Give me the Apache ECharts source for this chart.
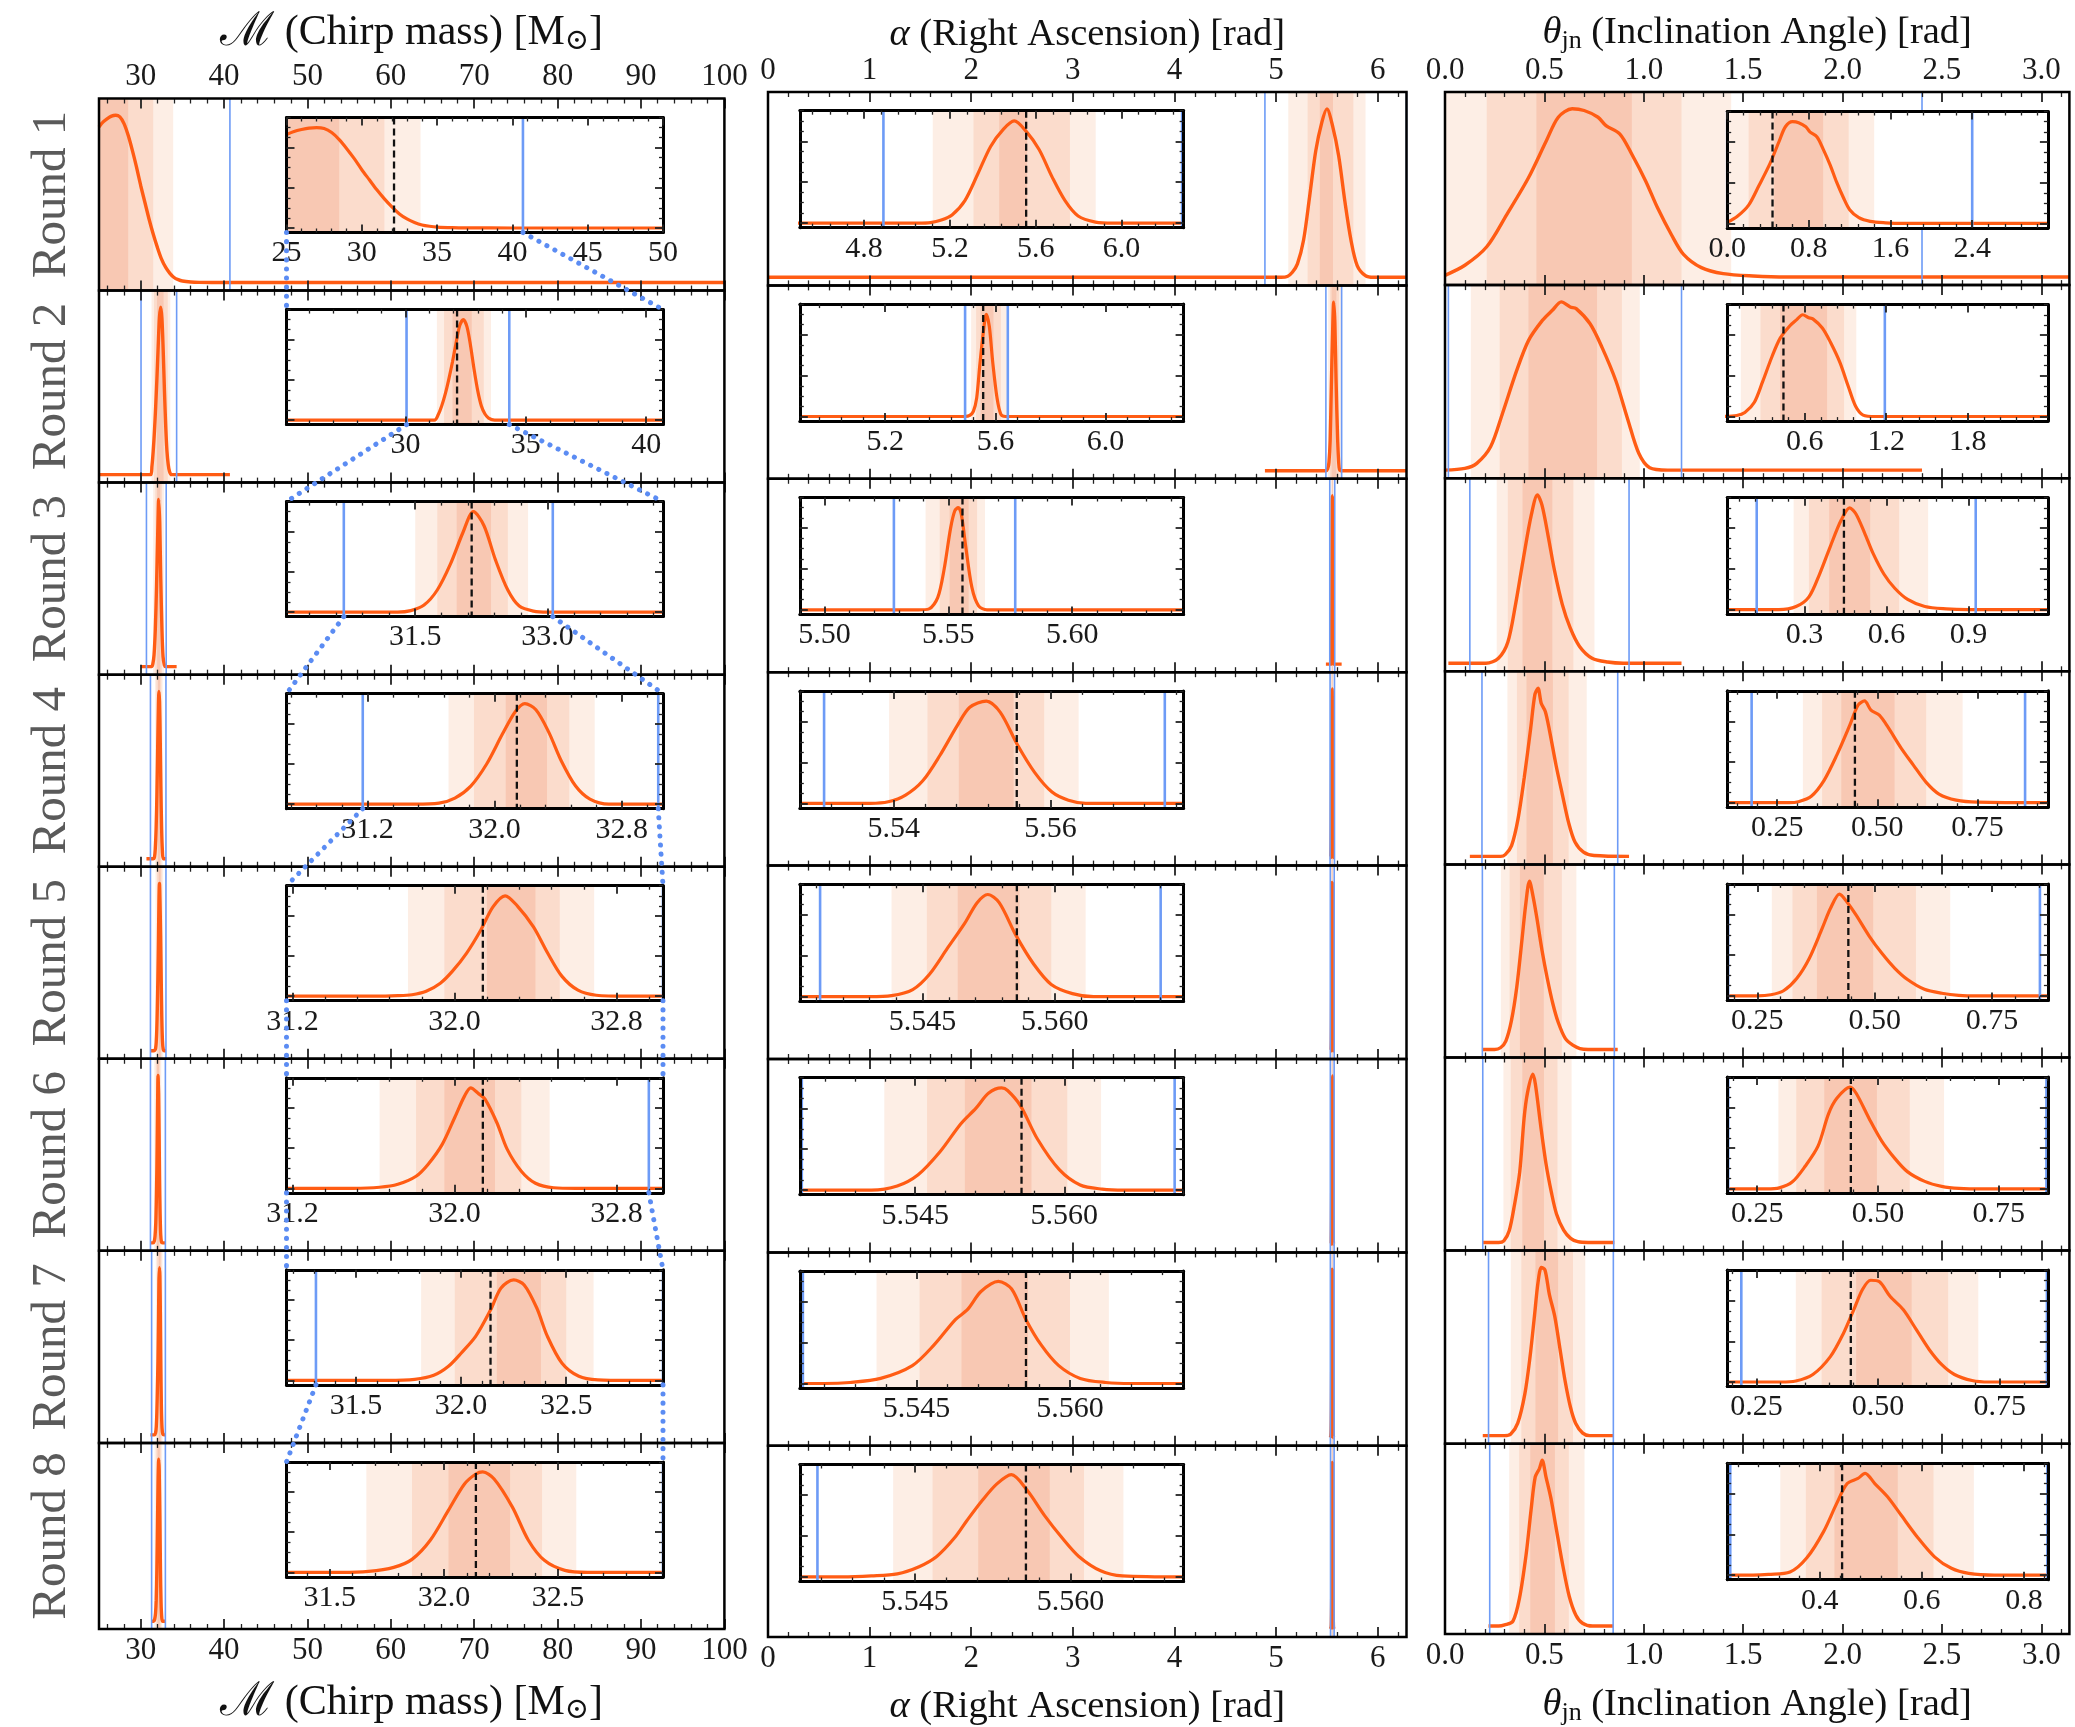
<!DOCTYPE html>
<html>
<head>
<meta charset="utf-8">
<script src="https://cdn.jsdelivr.net/npm/echarts@6/dist/echarts.min.js"></script>
<style>
html,body{margin:0;padding:0;background:#ffffff;}
#chart{width:2075px;height:1727px;}
</style>
</head>
<body>
<div id="chart"></div>
<script>
// ======================= DATA =======================
const roundNames = ['Round 1','Round 2','Round 3','Round 4','Round 5','Round 6','Round 7','Round 8'];

// ---- Column 1 : chirp mass ----
const chirpRange = [25, 100];
const chirpTicks = ['30','40','50','60','70','80','90','100'];
const chirpMinorStep = 2;
const chirpTruth = 32.14;
const chirpInsetRange = [[25,50],[25.05,40.7],[30.04,34.31],[30.69,33.06],[31.17,33.03],[31.17,33.03],[31.17,32.96],[31.31,32.96]];
const chirpInsetTicks = [['25','30','35','40','45','50'],['30','35','40'],['31.5','33.0'],['31.2','32.0','32.8'],['31.2','32.0','32.8'],['31.2','32.0','32.8'],['31.5','32.0','32.5'],['31.5','32.0','32.5']];
const chirpInsetMinor = [1,1,0.3,0.16,0.16,0.16,0.1,0.1];
const chirpPrior = [[25,40.7],[30.04,34.31],[30.69,33.06],[31.17,33.03],[31.17,33.03],[31.17,32.96],[31.31,32.96],[31.31,32.96]];
const chirpBands = [
  [[25,33.9],[25,31.5],[25,28.5]],
  [[31.3,33.55],[31.6,33.25],[31.95,32.75]],
  [[31.5,32.78],[31.75,32.55],[31.97,32.36]],
  [[31.71,32.63],[31.87,32.47],[32.07,32.33]],
  [[31.77,32.69],[31.95,32.52],[32.16,32.4]],
  [[31.63,32.47],[31.81,32.33],[31.95,32.2]],
  [[31.81,32.63],[31.97,32.5],[32.17,32.38]],
  [[31.66,32.58],[31.86,32.43],[32.02,32.29]]
];
const chirpCurveX = [
  [25,25.5,26,26.5,27,27.5,28,28.5,29,29.5,30,30.5,31,31.5,32,32.5,33,33.5,34,34.5,35,36,37,40,100],
  [25,31.2,31.35,31.5,31.65,31.8,31.95,32.1,32.25,32.4,32.55,32.7,32.85,33.0,33.15,33.3,33.45,33.7,40.7],
  [30.04,31.3,31.45,31.6,31.75,31.9,32.04,32.16,32.28,32.41,32.55,32.68,32.84,33.0,34.31],
  [30.69,31.5,31.65,31.75,31.85,31.95,32.05,32.13,32.19,32.26,32.34,32.42,32.51,32.6,32.72,33.06],
  [31.17,31.6,31.72,31.79,31.86,31.93,31.99,32.06,32.13,32.19,32.25,32.31,32.39,32.46,32.53,32.61,32.7,32.85,33.03],
  [31.17,31.5,31.63,31.72,31.81,31.87,31.94,32.0,32.05,32.08,32.12,32.15,32.21,32.26,32.33,32.4,32.49,32.6,33.03],
  [31.17,31.65,31.78,31.87,31.94,32.0,32.07,32.14,32.19,32.25,32.3,32.36,32.41,32.48,32.56,32.65,32.8,32.96],
  [31.31,31.55,31.67,31.78,31.86,31.94,32.02,32.09,32.14,32.17,32.22,32.3,32.37,32.44,32.53,32.63,32.96]
];
const chirpCurveY = [
  [0.93,0.96,0.98,0.995,1.0,0.99,0.95,0.88,0.79,0.69,0.58,0.48,0.38,0.29,0.21,0.14,0.09,0.055,0.03,0.017,0.009,0.003,0.001,0,0],
  [0,0,0.05,0.14,0.26,0.41,0.58,0.77,0.94,1.0,0.93,0.74,0.5,0.29,0.14,0.06,0.02,0,0],
  [0,0,0.015,0.07,0.22,0.48,0.79,1.0,0.86,0.52,0.22,0.06,0.01,0,0],
  [0,0,0.01,0.06,0.18,0.4,0.7,0.92,1.0,0.94,0.72,0.43,0.18,0.05,0,0],
  [0,0,0.005,0.015,0.05,0.13,0.25,0.43,0.66,0.89,1.0,0.9,0.69,0.43,0.2,0.06,0.01,0,0],
  [0,0,0.01,0.04,0.12,0.24,0.44,0.7,0.92,1.0,0.94,0.89,0.65,0.39,0.17,0.05,0.005,0,0],
  [0,0,0.01,0.05,0.14,0.27,0.44,0.7,0.92,1.0,0.95,0.72,0.44,0.17,0.04,0.005,0,0],
  [0,0,0.01,0.05,0.13,0.32,0.62,0.88,0.98,1.0,0.93,0.65,0.32,0.12,0.02,0,0]
];

// ---- Column 2 : right ascension ----
const raRange = [0, 6.2832];
const raTicks = ['0','1','2','3','4','5','6'];
const raMinorStep = 0.2;
const raTruth = 5.5557;
const raInsetRange = [[4.5,6.29],[4.89,6.2832],[5.49,5.645],[5.528,5.577],[5.5311,5.5746],[5.5334,5.572],[5.5336,5.5711],[5.5339,5.5709]];
const raInsetTicks = [['4.8','5.2','5.6','6.0'],['5.2','5.6','6.0'],['5.50','5.55','5.60'],['5.54','5.56'],['5.545','5.560'],['5.545','5.560'],['5.545','5.560'],['5.545','5.560']];
const raInsetMinor = [0.08,0.08,0.01,0.004,0.003,0.003,0.003,0.003];
const raPrior = [[4.89,6.2832],[5.49,5.645],[5.528,5.577],[5.5311,5.5746],[5.5334,5.572],[5.5336,5.5711],[5.5339,5.5711],[5.5356,5.5709]];
const raBands = [
  [[5.12,5.88],[5.31,5.76],[5.43,5.56]],
  [[5.512,5.64],[5.53,5.62],[5.546,5.593]],
  [[5.5408,5.5648],[5.5465,5.5616],[5.5505,5.5582]],
  [[5.5394,5.5636],[5.5443,5.5592],[5.5483,5.5553]],
  [[5.5415,5.5635],[5.5455,5.5596],[5.549,5.556]],
  [[5.5419,5.5637],[5.5462,5.5603],[5.55,5.5567]],
  [[5.5411,5.5638],[5.5453,5.56],[5.5494,5.5559]],
  [[5.5429,5.5651],[5.5467,5.5613],[5.5511,5.558]]
];
const raCurveX = [
  [0,5.05,5.11,5.16,5.21,5.27,5.33,5.39,5.45,5.5,5.555,5.616,5.677,5.737,5.798,5.879,5.96,6.2832],
  [4.89,5.49,5.507,5.52,5.532,5.543,5.556,5.567,5.578,5.59,5.606,5.62,5.636,6.2832],
  [5.49,5.538,5.5422,5.5457,5.5483,5.5509,5.5526,5.554,5.5552,5.5569,5.5595,5.5622,5.5656,5.645],
  [5.528,5.537,5.5393,5.5415,5.5437,5.5459,5.5481,5.5497,5.5518,5.5536,5.5558,5.558,5.5602,5.5623,5.5645,5.577],
  [5.5311,5.539,5.5415,5.5439,5.5458,5.5478,5.5498,5.5512,5.5524,5.5537,5.5556,5.5576,5.5596,5.562,5.5644,5.5746],
  [5.5334,5.5406,5.5432,5.5453,5.5475,5.5496,5.5511,5.5524,5.5537,5.5543,5.5556,5.5573,5.5595,5.5616,5.5638,5.566,5.572],
  [5.5336,5.536,5.5385,5.5415,5.5446,5.5467,5.5488,5.55,5.5513,5.553,5.5543,5.5557,5.5572,5.5589,5.561,5.5635,5.566,5.5711],
  [5.5339,5.538,5.5408,5.5433,5.5454,5.5471,5.5488,5.55,5.5515,5.5529,5.5543,5.5558,5.5575,5.5592,5.5608,5.5629,5.565,5.5709]
];
const raCurveY = [
  [0,0,0.005,0.03,0.08,0.22,0.48,0.75,0.92,1.0,0.9,0.72,0.45,0.22,0.07,0.01,0,0],
  [0,0,0.01,0.05,0.18,0.49,0.82,1.0,0.88,0.54,0.18,0.02,0,0],
  [0,0,0.01,0.12,0.4,0.8,0.97,1.0,0.94,0.64,0.22,0.04,0,0],
  [0,0,0.015,0.08,0.22,0.47,0.76,0.94,1.0,0.89,0.57,0.3,0.11,0.03,0,0],
  [0,0,0.01,0.07,0.22,0.47,0.72,0.92,1.0,0.92,0.6,0.32,0.12,0.03,0,0],
  [0,0,0.04,0.15,0.375,0.65,0.8,0.95,1.0,0.975,0.825,0.5,0.2,0.05,0.01,0,0],
  [0,0,0.01,0.05,0.175,0.375,0.625,0.725,0.9,1.0,0.925,0.625,0.375,0.175,0.05,0.01,0,0],
  [0,0,0.01,0.03,0.1,0.2,0.38,0.55,0.75,0.91,1.0,0.85,0.6,0.38,0.2,0.06,0.01,0]
];

// ---- Column 3 : inclination angle ----
const inclRange = [0, 3.1416];
const inclTicks = ['0.0','0.5','1.0','1.5','2.0','2.5','3.0'];
const inclMinorStep = 0.1;
const inclTruth = 0.444;
const inclInsetRange = [[0,3.1416],[0.03,2.39],[0.017,1.19],[0.125,0.926],[0.186,0.869],[0.188,0.852],[0.19,0.849],[0.219,0.847]];
const inclInsetTicks = [['0.0','0.8','1.6','2.4'],['0.6','1.2','1.8'],['0.3','0.6','0.9'],['0.25','0.50','0.75'],['0.25','0.50','0.75'],['0.25','0.50','0.75'],['0.25','0.50','0.75'],['0.4','0.6','0.8']];
const inclInsetMinor = [0.16,0.12,0.06,0.05,0.05,0.05,0.05,0.04];
const inclPrior = [[0,2.4],[0.017,1.19],[0.125,0.926],[0.186,0.869],[0.188,0.852],[0.19,0.849],[0.219,0.847],[0.225,0.846]];
const inclBands = [
  [[0,1.44],[0.21,1.19],[0.46,0.94]],
  [[0.13,0.98],[0.275,0.89],[0.42,0.765]],
  [[0.26,0.752],[0.316,0.646],[0.39,0.54]],
  [[0.314,0.713],[0.362,0.622],[0.41,0.543]],
  [[0.281,0.661],[0.325,0.588],[0.377,0.497]],
  [[0.294,0.637],[0.331,0.566],[0.389,0.498]],
  [[0.331,0.706],[0.384,0.644],[0.455,0.569]],
  [[0.323,0.702],[0.373,0.623],[0.429,0.553]]
];
const inclCurveX = [
  [0,0.1,0.21,0.31,0.42,0.51,0.57,0.64,0.7,0.77,0.81,0.88,0.94,1.01,1.07,1.14,1.2,1.29,1.4,1.55,1.72,3.1416],
  [0,0.1,0.16,0.23,0.29,0.36,0.42,0.49,0.54,0.585,0.63,0.66,0.73,0.79,0.86,0.92,0.975,1.03,1.12,2.4],
  [0.017,0.206,0.269,0.316,0.355,0.394,0.434,0.465,0.488,0.52,0.551,0.59,0.63,0.677,0.74,0.818,0.897,1.19],
  [0.125,0.28,0.303,0.335,0.367,0.399,0.431,0.452,0.468,0.484,0.505,0.527,0.559,0.59,0.622,0.654,0.697,0.75,0.926],
  [0.186,0.25,0.279,0.306,0.334,0.361,0.388,0.406,0.425,0.443,0.461,0.488,0.515,0.543,0.57,0.606,0.643,0.679,0.72,0.869],
  [0.188,0.27,0.296,0.323,0.349,0.376,0.398,0.415,0.442,0.455,0.482,0.508,0.535,0.561,0.597,0.632,0.668,0.72,0.852],
  [0.19,0.3,0.331,0.366,0.402,0.428,0.45,0.468,0.485,0.503,0.525,0.552,0.578,0.605,0.631,0.657,0.693,0.728,0.849],
  [0.219,0.27,0.3,0.342,0.375,0.408,0.433,0.454,0.475,0.489,0.508,0.533,0.558,0.592,0.625,0.658,0.692,0.742,0.847]
];
const inclCurveY = [
  [0.01,0.07,0.18,0.37,0.59,0.81,0.95,1.0,0.99,0.95,0.9,0.85,0.73,0.57,0.41,0.25,0.135,0.056,0.02,0.006,0,0],
  [0,0.01,0.04,0.14,0.34,0.59,0.77,0.89,0.95,1.0,0.97,0.96,0.87,0.73,0.53,0.3,0.1,0.014,0,0],
  [0,0,0.03,0.125,0.35,0.62,0.88,1.0,0.94,0.75,0.55,0.35,0.21,0.1,0.03,0.007,0,0],
  [0,0,0.01,0.064,0.22,0.47,0.76,0.96,1.0,0.91,0.86,0.74,0.54,0.37,0.2,0.085,0.025,0.005,0],
  [0,0,0.01,0.05,0.17,0.37,0.66,0.86,1.0,0.91,0.79,0.59,0.42,0.27,0.16,0.064,0.025,0.005,0,0],
  [0,0,0.01,0.07,0.22,0.42,0.74,0.89,1.0,0.94,0.69,0.47,0.3,0.17,0.074,0.025,0.005,0,0],
  [0,0,0.01,0.074,0.25,0.47,0.71,0.91,1.0,0.985,0.84,0.71,0.52,0.32,0.17,0.074,0.015,0,0],
  [0,0,0.007,0.03,0.17,0.43,0.7,0.9,0.95,1.0,0.9,0.77,0.6,0.37,0.18,0.067,0.017,0,0]
];

// Inset y ticks (density axis)
const insetYTicks = [0, 0.4, 0.8];
const insetYMinorStep = 0.1;

// ======================= LAYOUT & STYLE =======================
const FONT = "'Liberation Serif','DejaVu Serif',serif";
const ORANGE = '#ff5c14';
const BLUE = '#6d9bf6';
const BAND_COLORS = ['#fdeee5', '#fbdccc', '#f8c8b3'];
const MAIN_Y = [-0.048, 1.1];
const INSET_Y = [-0.045, 1.1];
const MAIN_LABEL_SIZE = 31;
const INSET_LABEL_SIZE = 30;

const colLeft = [99, 768, 1445];
const colWidth = [625.4, 638.5, 624.4];
const colTop = [98.5, 92, 92];
const rowH = [192.06, 193.4, 193.1];
const insetLeft = [286.5, 799.8, 1727.2];
const insetWidth = [376.5, 383.8, 320.7];
const insetTopRel = [19, 18.7, 19.5];
const insetH = [115, 117, 116.5];
const titleGapTop = [42, 36, 36];
const titleSize = [42, 38.5, 38.5];

const columns = [
  {range: chirpRange, ticks: chirpTicks, minor: chirpMinorStep, truth: chirpTruth, insetRange: chirpInsetRange, insetTicks: chirpInsetTicks, insetMinor: chirpInsetMinor, prior: chirpPrior, bands: chirpBands, cx: chirpCurveX, cy: chirpCurveY,
   title: '{m|ℳ} (Chirp mass) [M{sub|⊙}]'},
  {range: raRange, ticks: raTicks, minor: raMinorStep, truth: raTruth, insetRange: raInsetRange, insetTicks: raInsetTicks, insetMinor: raInsetMinor, prior: raPrior, bands: raBands, cx: raCurveX, cy: raCurveY,
   title: '{i|α} (Right Ascension) [rad]'},
  {range: inclRange, ticks: inclTicks, minor: inclMinorStep, truth: inclTruth, insetRange: inclInsetRange, insetTicks: inclInsetTicks, insetMinor: inclInsetMinor, prior: inclPrior, bands: inclBands, cx: inclCurveX, cy: inclCurveY,
   title: '{i|θ}{sub|jn} (Inclination Angle) [rad]'}
];

// ======================= HELPERS =======================
function fmtFor(labels) {
  const vals = labels.map(Number);
  return function (v) {
    for (let i = 0; i < vals.length; i++) {
      if (Math.abs(vals[i] - v) <= 1e-7 * Math.max(1, Math.abs(v))) return labels[i];
    }
    return '';
  };
}
function minorVals(min, max, step, majors) {
  const base = majors[0];
  const out = [];
  const k0 = Math.ceil((min - base) / step - 1e-6);
  const k1 = Math.floor((max - base) / step + 1e-6);
  const span = max - min;
  for (let k = k0; k <= k1; k++) {
    const v = base + k * step;
    if (majors.some(m => Math.abs(m - v) < step * 0.01)) continue;
    if (v < min - span * 1e-6 || v > max + span * 1e-6) continue;
    out.push(v);
  }
  return out;
}
function titleRich(size) {
  return {
    m: {fontFamily: FONT, fontSize: size + 5, fontStyle: 'normal', color: '#111'},
    i: {fontFamily: FONT, fontSize: size, fontStyle: 'italic', color: '#111'},
    sub: {fontFamily: FONT, fontSize: Math.round(size * 0.68), color: '#111', padding: [16, 0, 0, 0]}
  };
}

function bandRender(params, api) {
  const cs = params.coordSys;
  const a = api.coord([api.value(0), 0])[0];
  const b = api.coord([api.value(1), 0])[0];
  const x1 = Math.max(Math.min(a, b), cs.x);
  const x2 = Math.min(Math.max(a, b), cs.x + cs.width);
  if (!(x2 > x1)) return null;
  return {type: 'rect', shape: {x: x1, y: cs.y, width: x2 - x1, height: cs.height},
          style: {fill: BAND_COLORS[api.value(2)]}, silent: true};
}
function makeVlineRender(blueWidth) {
  return function (params, api) {
    const cs = params.coordSys;
    const x = api.coord([api.value(0), 0])[0];
    if (x < cs.x - 1 || x > cs.x + cs.width + 1) return null;
    const kind = api.value(1);
    const style = kind === 1
      ? {stroke: '#111', lineWidth: 2.3, lineDash: [7, 4]}
      : {stroke: BLUE, lineWidth: blueWidth};
    return {type: 'line', shape: {x1: x, y1: cs.y, x2: x, y2: cs.y + cs.height}, style, silent: true};
  };
}

const option = {animation: false, backgroundColor: '#ffffff', grid: [], xAxis: [], yAxis: [], series: []};
const insetBottomAxis = [[], [], []];
const insetBox = [[], [], []];

function xAxisDef(gridIndex, min, max, position, tickVals, len, width, z, lineW, labels, labelSize, margin, name, nameGap, nameSize) {
  const a = {
    type: 'value', gridIndex, min, max, position, z,
    axisLine: {show: !!lineW, onZero: false, lineStyle: {color: '#000', width: lineW || 1}},
    axisTick: {show: true, inside: true, length: len, lineStyle: {color: '#222', width}, customValues: tickVals},
    axisLabel: labels ? {show: true, customValues: labels.map(Number), formatter: fmtFor(labels),
                         fontFamily: FONT, fontSize: labelSize, color: '#1a1a1a', margin}
                      : {show: false},
    splitLine: {show: false}
  };
  if (name) {
    a.name = name; a.nameLocation = 'middle'; a.nameGap = nameGap;
    a.nameTextStyle = {fontFamily: FONT, fontSize: nameSize, color: '#111', rich: titleRich(nameSize)};
  }
  option.xAxis.push(a);
  return option.xAxis.length - 1;
}
function yAxisDef(gridIndex, min, max, position, tickVals, len, width, z, lineW) {
  option.yAxis.push({
    type: 'value', gridIndex, min, max, position, z,
    axisLine: {show: !!lineW, onZero: false, lineStyle: {color: '#000', width: lineW || 1}},
    axisTick: {show: true, inside: true, length: len, lineStyle: {color: '#222', width}, customValues: tickVals},
    axisLabel: {show: false}, splitLine: {show: false}
  });
  return option.yAxis.length - 1;
}

// ======================= BUILD =======================
columns.forEach((col, c) => {
  const majors = col.ticks.map(Number);
  const minors = minorVals(col.range[0], col.range[1], col.minor, majors);
  for (let r = 0; r < 8; r++) {
    // ---------- main panel ----------
    const top = colTop[c] + r * rowH[c];
    option.grid.push({left: colLeft[c], top, width: colWidth[c], height: rowH[c], show: true,
      backgroundColor: 'transparent', borderColor: '#000', borderWidth: 2.5, z: 6});
    const g = option.grid.length - 1;
    const xb = xAxisDef(g, col.range[0], col.range[1], 'bottom', majors, 10, 1.8, 5, 0,
      r === 7 ? col.ticks : null, MAIN_LABEL_SIZE, 6, r === 7 ? col.title : null, 50, titleSize[c]);
    xAxisDef(g, col.range[0], col.range[1], 'bottom', minors, 5, 1.3, 5, 0, null);
    xAxisDef(g, col.range[0], col.range[1], 'top', majors, 10, 1.8, 5, 0,
      r === 0 ? col.ticks : null, MAIN_LABEL_SIZE, 6, r === 0 ? col.title : null, titleGapTop[c], titleSize[c]);
    xAxisDef(g, col.range[0], col.range[1], 'top', minors, 5, 1.3, 5, 0, null);
    option.yAxis.push({
      type: 'value', gridIndex: g, min: MAIN_Y[0], max: MAIN_Y[1], position: 'left', show: c === 0,
      axisLine: {show: false}, axisTick: {show: false}, axisLabel: {show: false}, splitLine: {show: false},
      name: c === 0 ? roundNames[r] : '', nameLocation: 'middle', nameRotate: 90, nameGap: 22,
      nameTextStyle: {fontFamily: FONT, fontSize: 49, color: '#5a5a5a'}
    });
    const y = option.yAxis.length - 1;
    const curve = col.cx[r].map((x, i) => [x, col.cy[r][i]]);
    option.series.push({type: 'custom', xAxisIndex: xb, yAxisIndex: y, z: 1, silent: true,
      renderItem: bandRender, data: col.bands[r].map((b, i) => [b[0], b[1], i])});
    option.series.push({type: 'line', xAxisIndex: xb, yAxisIndex: y, z: 3, silent: true, data: curve,
      showSymbol: false, symbol: 'none', smooth: 0.3, lineStyle: {color: ORANGE, width: 3.4}});
    option.series.push({type: 'custom', xAxisIndex: xb, yAxisIndex: y, z: 4, silent: true,
      renderItem: makeVlineRender(1.6), data: col.prior[r].map(p => [p, 0])});

    // ---------- inset ----------
    const itop = top + insetTopRel[c];
    const [imin, imax] = col.insetRange[r];
    insetBox[c].push({left: insetLeft[c], top: itop, width: insetWidth[c], height: insetH[c]});
    option.grid.push({left: insetLeft[c], top: itop, width: insetWidth[c], height: insetH[c], show: true,
      backgroundColor: '#ffffff', borderWidth: 0, z: 10});
    const gi = option.grid.length - 1;
    const imaj = col.insetTicks[r].map(Number);
    const imin2 = minorVals(imin, imax, col.insetMinor[r], imaj);
    const xi = xAxisDef(gi, imin, imax, 'bottom', imaj, 8, 1.8, 15, 3, col.insetTicks[r], INSET_LABEL_SIZE, 6);
    insetBottomAxis[c].push(xi);
    xAxisDef(gi, imin, imax, 'bottom', imin2, 4, 1.3, 15, 0, null);
    xAxisDef(gi, imin, imax, 'top', imaj, 8, 1.8, 15, 3, null);
    xAxisDef(gi, imin, imax, 'top', imin2, 4, 1.3, 15, 0, null);
    const yMinor = minorVals(INSET_Y[0], INSET_Y[1], insetYMinorStep, insetYTicks);
    const yi = yAxisDef(gi, INSET_Y[0], INSET_Y[1], 'left', insetYTicks, 8, 1.8, 15, 3);
    yAxisDef(gi, INSET_Y[0], INSET_Y[1], 'left', yMinor, 4, 1.3, 15, 0);
    yAxisDef(gi, INSET_Y[0], INSET_Y[1], 'right', insetYTicks, 8, 1.8, 15, 3);
    yAxisDef(gi, INSET_Y[0], INSET_Y[1], 'right', yMinor, 4, 1.3, 15, 0);
    option.series.push({type: 'custom', xAxisIndex: xi, yAxisIndex: yi, z: 11, silent: true,
      renderItem: bandRender, data: col.bands[r].map((b, i) => [b[0], b[1], i])});
    option.series.push({type: 'line', xAxisIndex: xi, yAxisIndex: yi, z: 12, silent: true, data: curve,
      showSymbol: false, symbol: 'none', smooth: 0.3, lineStyle: {color: ORANGE, width: 3.2}});
    option.series.push({type: 'custom', xAxisIndex: xi, yAxisIndex: yi, z: 13, silent: true,
      renderItem: makeVlineRender(2.6), data: col.prior[r].map(p => [p, 0]).concat([[col.truth, 1]])});
  }
});

const chart = echarts.init(document.getElementById('chart'), null, {renderer: 'canvas'});
chart.setOption(option);

// ---- dotted zoom connectors (column 1): prior bounds of a round -> corners of the next inset ----
const graphics = [];
for (let r = 0; r < 7; r++) {
  const box = insetBox[0][r], next = insetBox[0][r + 1];
  const yFrom = box.top + box.height;
  const [lo, hi] = chirpPrior[r];
  const xLo = chart.convertToPixel({xAxisIndex: insetBottomAxis[0][r]}, lo);
  const xHi = chart.convertToPixel({xAxisIndex: insetBottomAxis[0][r]}, hi);
  const pairs = [[xLo, next.left], [xHi, next.left + next.width]];
  pairs.forEach(([x1, x2]) => {
    graphics.push({type: 'line', z: 100, silent: true,
      shape: {x1, y1: yFrom, x2, y2: next.top},
      style: {stroke: '#5b8cf3', lineWidth: 5, lineDash: [0.1, 9], lineCap: 'round'}});
  });
}
chart.setOption({graphic: graphics});
</script>
</body>
</html>
